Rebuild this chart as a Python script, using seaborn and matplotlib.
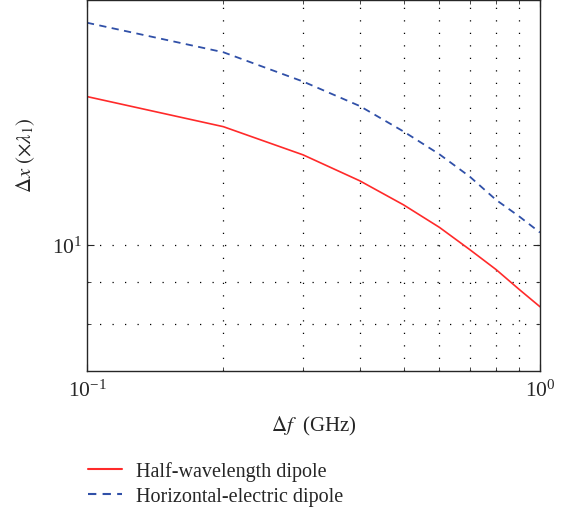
# Δx vs Δf, dipolos (log-log)

import pandas as pd
import numpy as np
import seaborn as sns
import matplotlib.pyplot as plt
from matplotlib.ticker import LogLocator, NullFormatter

# Datos
freq = [0.1, 0.2, 0.3, 0.4, 0.5, 0.6, 0.7, 0.8, 0.9, 1.0]
half_wave = [15.20, 13.96, 12.89, 11.98, 11.19, 10.50, 9.86, 9.32, 8.81, 8.39]
horiz_elec = [18.73, 17.23, 15.86, 14.80, 13.77, 12.91, 12.12, 11.35, 10.83, 10.35]
labels = ['Half-wavelength dipole', 'Horizontal-electric dipole']

df = pd.DataFrame({
    'f': freq * 2,
    'dx': half_wave + horiz_elec,
    'antena': [labels[0]] * len(freq) + [labels[1]] * len(freq),
})

sns.set_style('ticks')
plt.rcParams['font.family'] = ['Liberation Serif', 'DejaVu Serif']
plt.rcParams['mathtext.fontset'] = 'stix'

fig = plt.figure(figsize=(5.72, 5.10), dpi=100)
ax = fig.add_axes([0.152, 0.271, 0.792, 0.728])

sns.lineplot(data=df, x='f', y='dx', hue='antena', style='antena',
             palette={labels[0]: '#ff2a2a', labels[1]: '#3050a8'},
             dashes={labels[0]: '', labels[1]: (4, 3)},
             ax=ax, legend=True)
for ln, lw in zip(ax.get_lines(), [1.2, 1.3]):
    ln.set_linewidth(lw)

ax.set_xscale('log')
ax.set_yscale('log')
ax.set_xlim(0.1, 1.0)
ax.set_ylim(7.0, 20.0)

ax.yaxis.set_major_locator(LogLocator(base=10))
ax.yaxis.set_minor_locator(LogLocator(base=10, subs=np.arange(2, 10)))
ax.yaxis.set_minor_formatter(NullFormatter())
ax.xaxis.set_minor_formatter(NullFormatter())

# rejilla punteada solo en los menores (y en 10^1)
for xv in [0.2, 0.3, 0.4, 0.5, 0.6, 0.7, 0.8, 0.9]:
    ax.axvline(xv, color='black', lw=0.9, ls=(0, (1, 9)), zorder=0)
for yv in [8, 9, 10]:
    ax.axhline(yv, color='black', lw=0.9, ls=(0, (1, 9)), zorder=0)

ax.tick_params(which='both', direction='in', top=True, right=True, labelsize=15.5)
ax.tick_params(axis='x', pad=6)
ax.tick_params(which='major', length=5)
ax.tick_params(which='minor', length=3)
for s in ax.spines.values():
    s.set_linewidth(1.0)

ax.set_xlabel(r'$\Delta f\ $ (GHz)', fontsize=15, labelpad=10)
ax.set_ylabel(r'$\Delta x\ (\times\lambda_1)$', fontsize=15)
ax.yaxis.set_label_coords(-0.11, 0.583)

handles, labs = ax.get_legend_handles_labels()
ax.get_legend().remove()
fig.legend(handles, labs, loc='upper left', bbox_to_anchor=(0.14, 0.11),
           frameon=False, fontsize=14.5, handlelength=1.7, handletextpad=0.7,
           labelspacing=0.3, borderaxespad=0)

fig.savefig('out.png', dpi=100)
